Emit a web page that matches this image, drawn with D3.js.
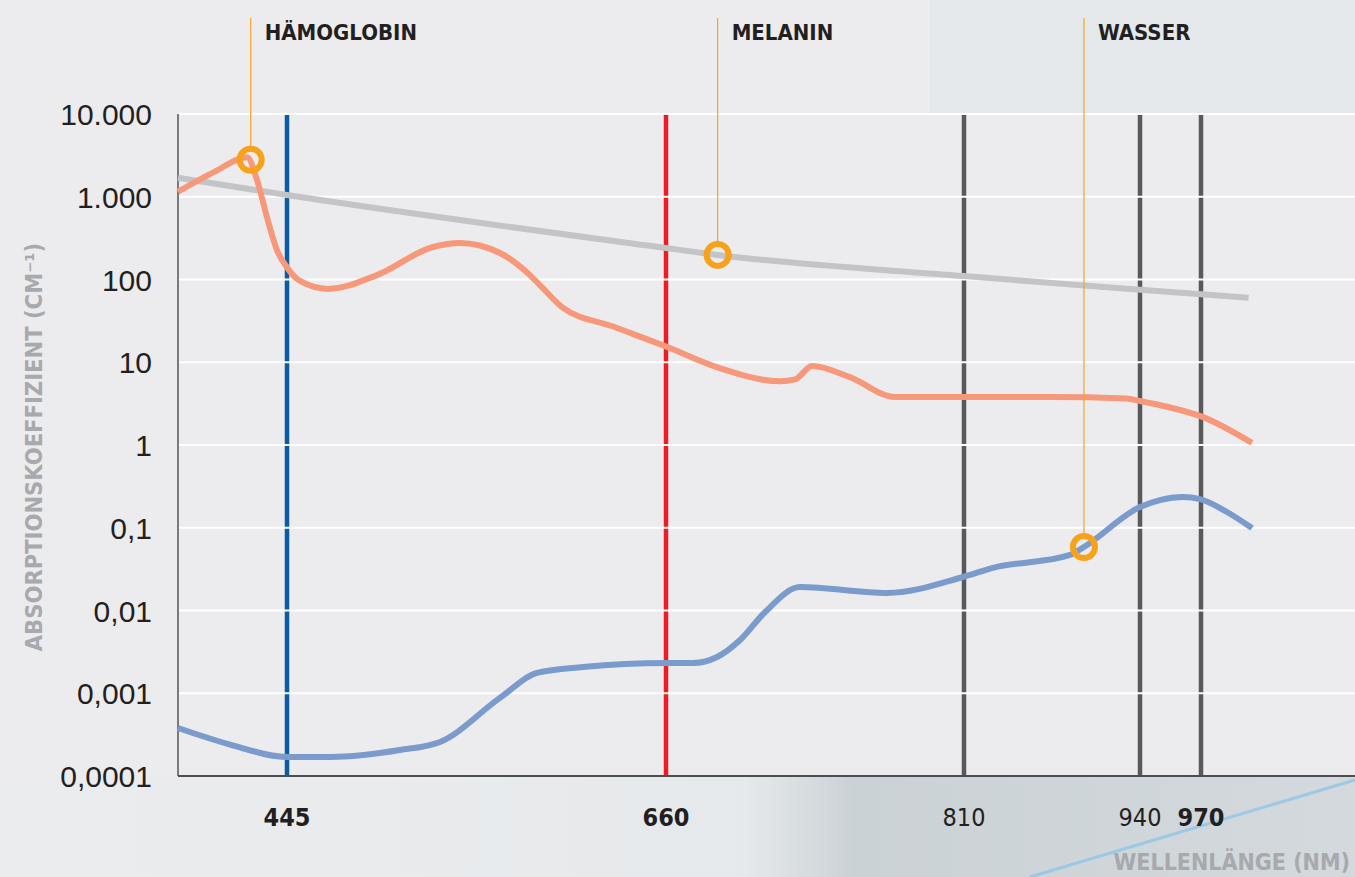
<!DOCTYPE html>
<html>
<head>
<meta charset="utf-8">
<script src="https://cdn.jsdelivr.net/npm/d3@7"></script>
<style>
  body { margin: 0; background: #ececee; }
  svg { display: block; }
</style>
</head>
<body>
<div id="chart"></div>
<script>
// Absorptionsspektren: Hämoglobin, Melanin, Wasser (log-Skala)

var w = 1355;
var h = 877;

// Wellenlaengen (nm) und Werte (cm^-1)
var haemoglobin = [
  [400, 1150], [415, 2000], [428.5, 3000], [432.6, 1600], [436.7, 570],
  [440.9, 225], [445, 140], [452.4, 96], [468.3, 77], [496, 113],
  [527.8, 247], [543, 276], [565.8, 209], [582.8, 113], [590, 79], [601, 46.5],
  [630, 27], [660.6, 15.3], [687, 8.5], [717.4, 5.9], [725, 6.2], [733.5, 9],
  [752.6, 6.6], [775.3, 3.8], [810, 3.8], [873.5, 3.8], [930, 3.65],
  [940, 3.4], [953.3, 2.9], [970.5, 2.2], [1000, 1.06]
];
var melanin = [
  [400, 1690], [445, 1050], [660, 240], [686, 198], [810, 110], [940, 75], [998, 60]
];
var wasser = [
  [400, 0.00038], [421.5, 0.00024], [445, 0.00017], [469.4, 0.00017], [509, 0.000206],
  [531.8, 0.000258], [565.8, 0.00088], [586.8, 0.00176], [612.9, 0.00207], [660.5, 0.00232],
  [673.6, 0.00232], [685.7, 0.00274], [697.3, 0.0044], [709.9, 0.0096], [727.5, 0.0192],
  [771.3, 0.0163], [809.5, 0.0254], [831.4, 0.0327], [888.3, 0.0469], [898.6, 0.0585],
  [940, 0.178], [949.8, 0.216], [961.1, 0.235], [969.5, 0.222], [985.3, 0.155], [1000, 0.099]
];

// markierte Punkte
var markers = [
  { name: "HÄMOGLOBIN", nm: 430, v: 2800 },
  { name: "MELANIN", nm: 686, v: 198 },
  { name: "WASSER", nm: 898.6, v: 0.0585 }
];

// LED-Wellenlaengen (vertikale Linien)
var leds = [445, 660, 810, 940, 970];
var ledColors = ["#0a5aa6", "#ec1c24", "#58595b", "#58595b", "#58595b"];
var tickBold = [true, true, false, false, true];

var yTicks = [10000, 1000, 100, 10, 1, 0.1, 0.01, 0.001, 0.0001];
var yTickLabels = ["10.000", "1.000", "100", "10", "1", "0,1", "0,01", "0,001", "0,0001"];

// Skalen (x stueckweise linear wie im Original)
var xKnotsNm = [400, 445, 660, 810, 940, 970, 1000];
var xKnotsPx = [178, 287, 666, 964, 1140, 1201, 1252];
var x = d3.scaleLinear().domain(xKnotsNm).range(xKnotsPx);
var y = d3.scaleLog().domain([0.0001, 10000]).range([776, 114]);
var pLeft = 178, pRight = 1355, pTop = 114, pBottom = 776;

var svg = d3.select("#chart").append("svg")
  .attr("width", w)
  .attr("height", h);

var defs = svg.append("defs");
var grad = defs.append("linearGradient").attr("id", "floor")
  .attr("x1", "0").attr("x2", "1").attr("y1", "0").attr("y2", "0");
grad.append("stop").attr("offset", "0").attr("stop-color", "#ebecee");
grad.append("stop").attr("offset", "0.55").attr("stop-color", "#e6e9eb");
grad.append("stop").attr("offset", "0.63").attr("stop-color", "#cbd2d6");
grad.append("stop").attr("offset", "1").attr("stop-color", "#d3d9dc");

// Hintergrund
svg.append("rect").attr("width", w).attr("height", h).attr("fill", "#ececee");
svg.append("rect").attr("x", 930).attr("y", 0).attr("width", w - 930).attr("height", pTop)
  .attr("fill", "#e5e8ea");
svg.append("rect").attr("x", 0).attr("y", pBottom).attr("width", w).attr("height", h - pBottom)
  .attr("fill", "url(#floor)");
svg.append("line")
  .attr("x1", 1030).attr("y1", h).attr("x2", w).attr("y2", 780)
  .attr("stroke", "#8fc6e8").attr("stroke-width", 3).attr("opacity", 0.8);
svg.append("rect").attr("x", pLeft).attr("y", pTop).attr("width", pRight - pLeft).attr("height", pBottom - pTop)
  .attr("fill", "#ececee");

// LED-Linien
svg.selectAll(".led")
  .data(leds)
  .enter()
  .append("line")
  .attr("class", "led")
  .attr("x1", function (d) { return x(d); })
  .attr("x2", function (d) { return x(d); })
  .attr("y1", pTop)
  .attr("y2", pBottom)
  .attr("stroke", function (d, i) { return ledColors[i]; })
  .attr("stroke-width", 4.5);

// Gitterlinien
svg.selectAll(".grid")
  .data(yTicks.slice(0, -1))
  .enter()
  .append("line")
  .attr("x1", pLeft).attr("x2", pRight)
  .attr("y1", function (d) { return y(d); })
  .attr("y2", function (d) { return y(d); })
  .attr("stroke", "#ffffff")
  .attr("stroke-width", 2);

// Achsen
svg.append("line").attr("x1", pLeft).attr("x2", pLeft).attr("y1", pTop).attr("y2", pBottom)
  .attr("stroke", "#7a7a7a").attr("stroke-width", 2);
svg.append("line").attr("x1", pLeft).attr("x2", pRight).attr("y1", pBottom).attr("y2", pBottom)
  .attr("stroke", "#4d4d4f").attr("stroke-width", 2);

// Kurven
var line = d3.line()
  .x(function (d) { return x(d[0]); })
  .y(function (d) { return y(d[1]); })
  .curve(d3.curveMonotoneX);

var series = [
  { data: melanin, color: "#c3c4c6" },
  { data: haemoglobin, color: "#f7987a" },
  { data: wasser, color: "#7b9bcd" }
];
svg.selectAll(".curve")
  .data(series)
  .enter()
  .append("path")
  .attr("d", function (d) { return line(d.data); })
  .attr("fill", "none")
  .attr("stroke", function (d) { return d.color; })
  .attr("stroke-width", 6);

// Marker und Beschriftungen
var mk = svg.selectAll(".marker")
  .data(markers)
  .enter()
  .append("g");
mk.append("line")
  .attr("x1", function (d) { return x(d.nm); })
  .attr("x2", function (d) { return x(d.nm); })
  .attr("y1", 18)
  .attr("y2", function (d) { return y(d.v) - 11; })
  .attr("stroke", "#f5a623")
  .attr("stroke-width", 1.2);
mk.append("circle")
  .attr("cx", function (d) { return x(d.nm); })
  .attr("cy", function (d) { return y(d.v); })
  .attr("r", 11)
  .attr("fill", "none")
  .attr("stroke", "#f7a21b")
  .attr("stroke-width", 6);
mk.append("text")
  .attr("x", function (d) { return x(d.nm) + 14; })
  .attr("y", 40)
  .attr("font-family", "'DejaVu Sans Condensed', 'DejaVu Sans', sans-serif")
  .attr("font-weight", "bold")
  .attr("font-size", 22)
  .attr("fill", "#231f20")
  .text(function (d) { return d.name; });

// y-Beschriftungen
svg.selectAll(".ylab")
  .data(yTicks)
  .enter()
  .append("text")
  .attr("x", 152)
  .attr("y", function (d) { return y(d) + 11; })
  .attr("text-anchor", "end")
  .attr("font-family", "'Liberation Sans', sans-serif")
  .attr("font-size", 30)
  .attr("fill", "#231f20")
  .text(function (d, i) { return yTickLabels[i]; });

// x-Beschriftungen
svg.selectAll(".xlab")
  .data(leds)
  .enter()
  .append("text")
  .attr("x", function (d) { return x(d); })
  .attr("y", 826)
  .attr("text-anchor", "middle")
  .attr("font-family", "'DejaVu Sans Condensed', 'DejaVu Sans', sans-serif")
  .attr("font-weight", function (d, i) { return tickBold[i] ? "bold" : "normal"; })
  .attr("font-size", 25)
  .attr("fill", "#231f20")
  .text(function (d) { return d; });

// Achsentitel
svg.append("text")
  .attr("transform", "translate(42,447) rotate(-90)")
  .attr("text-anchor", "middle")
  .attr("font-family", "'DejaVu Sans Condensed', 'DejaVu Sans', sans-serif")
  .attr("font-weight", "bold")
  .attr("font-size", 23.5)
  .attr("fill", "#a7a9ac")
  .text("ABSORPTIONSKOEFFIZIENT (CM⁻¹)");

svg.append("text")
  .attr("x", 1350)
  .attr("y", 870)
  .attr("text-anchor", "end")
  .attr("font-family", "'DejaVu Sans Condensed', 'DejaVu Sans', sans-serif")
  .attr("font-weight", "bold")
  .attr("font-size", 23)
  .attr("fill", "#a7a9ac")
  .text("WELLENLÄNGE (NM)");
</script>
</body>
</html>
